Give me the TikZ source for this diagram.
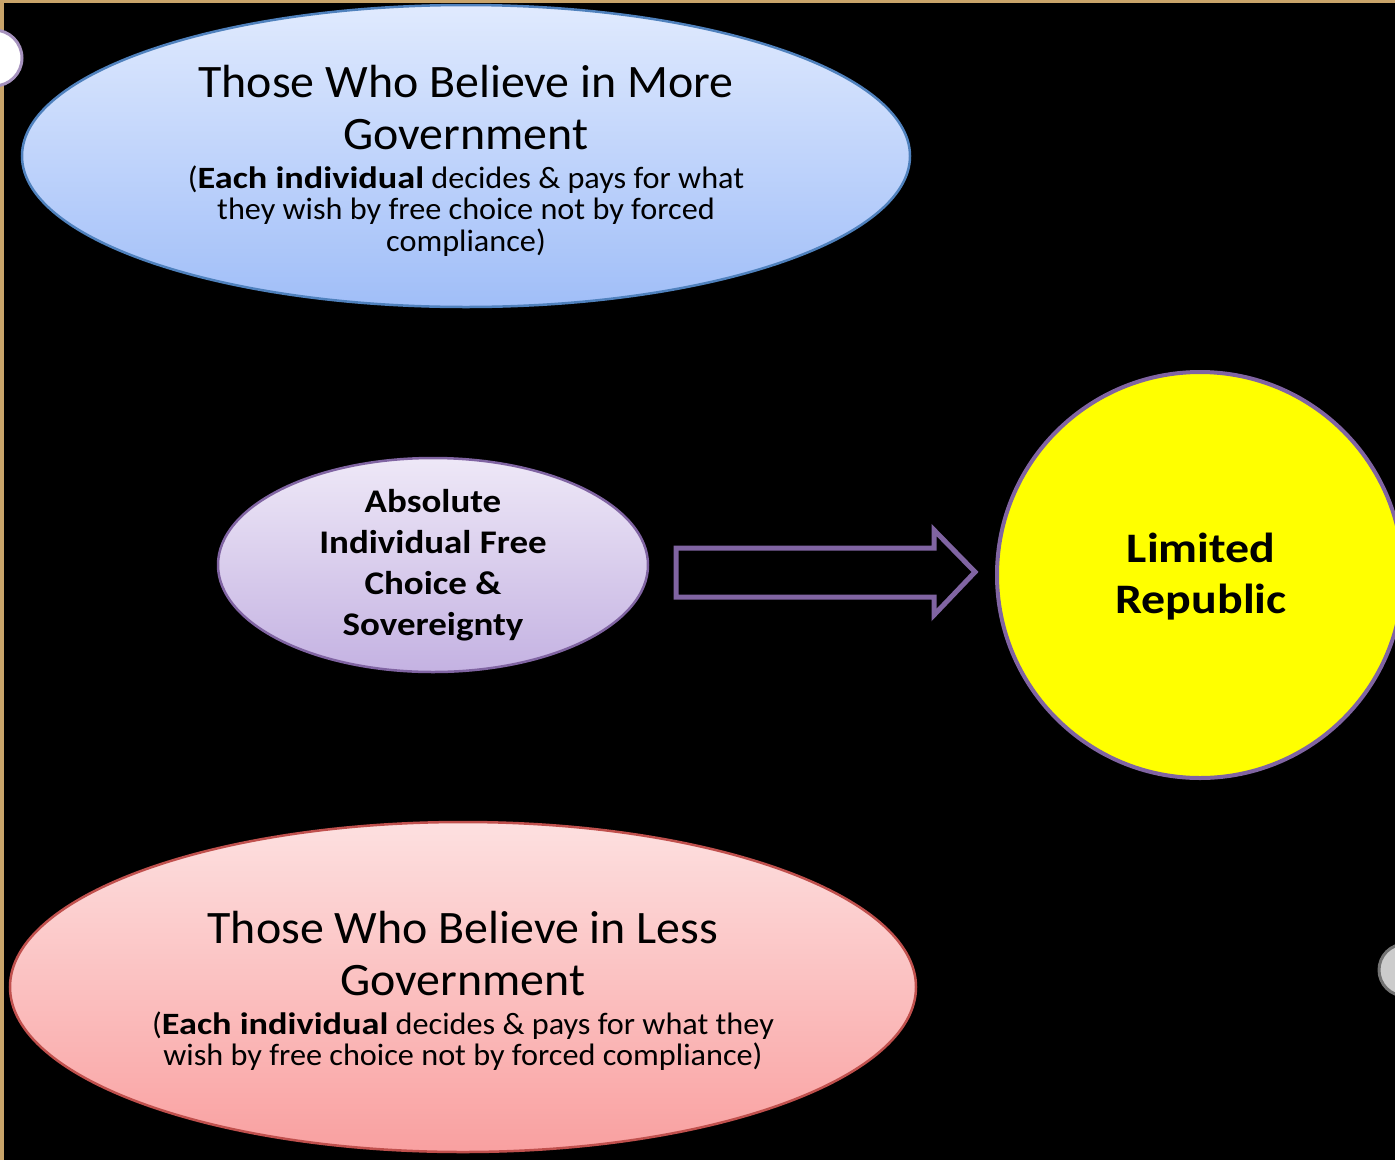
\documentclass[tikz,border=0pt]{standalone}
\usepackage{fontspec}
\setmainfont{Carlito}
\newfontfamily\titlef[FakeStretch=1.03]{Carlito}
\newfontfamily\smallf[FakeStretch=1.04, BoldFeatures={FakeStretch=1.17}]{Carlito}
\newfontfamily\midf[FakeStretch=1.12]{Carlito}
\newfontfamily\repf[FakeStretch=1.14]{Carlito}
\usetikzlibrary{shapes.geometric}
\definecolor{gold}{HTML}{C9A46A}
\definecolor{bluetop}{HTML}{E0EAFE}
\definecolor{bluebot}{HTML}{A0BEF8}
\definecolor{blueedge}{HTML}{4F81BD}
\definecolor{lavtop}{HTML}{EEE8F7}
\definecolor{lavbot}{HTML}{C4B2E2}
\definecolor{purpedge}{HTML}{8064A2}
\definecolor{pinktop}{HTML}{FDE0E0}
\definecolor{pinkbot}{HTML}{F9A0A0}
\definecolor{rededge}{HTML}{C0504D}
\definecolor{repyellow}{HTML}{FFFF00}
\tikzset{
  bigell/.style={ellipse, inner sep=0pt, line width=2.5pt},
  titletxt/.style={anchor=base, inner sep=0pt, font=\titlef\fontsize{46.5}{53}\selectfont},
  smalltxt/.style={anchor=base, inner sep=0pt, font=\smallf\fontsize{31}{31.5}\selectfont},
  midtxt/.style={anchor=base, inner sep=0pt, font=\midf\bfseries\fontsize{33}{41}\selectfont},
  reptxt/.style={anchor=base, inner sep=0pt, font=\repf\bfseries\fontsize{42}{52}\selectfont},
  blockarrow/.style={draw=purpedge, line width=5pt, line join=miter},
}
\begin{document}
\begin{tikzpicture}[x=1pt,y=-1pt]
\useasboundingbox (0,0) rectangle (1395,1160);
\fill[black] (0,0) rectangle (1395,1160);
\fill[gold] (0,0) rectangle (4,1160);
\fill[gold] (0,0) rectangle (1395,3);
% decorative circles
\node[circle, minimum size=56pt, inner sep=0pt, fill=white, draw=purpedge!70, line width=3pt] (wc) at (-6,58) {};
\node[circle, minimum size=52pt, inner sep=0pt, fill=black!20, draw=black!55, line width=3pt] (gc) at (1405,970) {};
% top ellipse
\node[bigell, minimum width=888pt, minimum height=302pt, top color=bluetop, bottom color=bluebot, draw=blueedge] (more) at (466,156) {};
\node[titletxt] (m1) at (466,97) {Those Who Believe in More};
\node[titletxt] (m2) at (466,149) {Government};
\node[smalltxt] (m3) at (466,188) {(\textbf{Each individual} decides \& pays for what};
\node[smalltxt] (m4) at (466,219.5) {they wish by free choice not by forced};
\node[smalltxt] (m5) at (466,251) {compliance)};
% middle ellipse
\node[bigell, minimum width=430pt, minimum height=214pt, top color=lavtop, bottom color=lavbot, draw=purpedge] (mid) at (433,565) {};
\node[midtxt] (c1) at (433,512) {Absolute};
\node[midtxt] (c2) at (433,553) {Individual Free};
\node[midtxt] (c3) at (433,594) {Choice \&};
\node[midtxt] (c4) at (433,635) {Sovereignty};
% republic circle
\node[circle, minimum size=406pt, inner sep=0pt, fill=repyellow, draw=purpedge, line width=4pt] (rep) at (1200,575) {};
\node[reptxt] (r1) at (1201,562) {Limited};
\node[reptxt] (r2) at (1201,613) {Republic};
% block arrow
\coordinate (a1) at (676,548);
\coordinate (a2) at (934,548);
\coordinate (a3) at (934,530);
\coordinate (tip) at (975,572);
\coordinate (a5) at (934,615);
\coordinate (a6) at (934,597);
\coordinate (a7) at (676,597);
\draw[blockarrow] (a1) -- (a2) -- (a3) -- (tip) -- (a5) -- (a6) -- (a7) -- cycle;
% bottom ellipse
\node[bigell, minimum width=906pt, minimum height=330pt, top color=pinktop, bottom color=pinkbot, draw=rededge] (less) at (463,987) {};
\node[titletxt] (l1) at (463,943) {Those Who Believe in Less};
\node[titletxt] (l2) at (463,995) {Government};
\node[smalltxt] (l3) at (463,1034) {(\textbf{Each individual} decides \& pays for what they};
\node[smalltxt] (l4) at (463,1065) {wish by free choice not by forced compliance)};
\end{tikzpicture}
\end{document}
